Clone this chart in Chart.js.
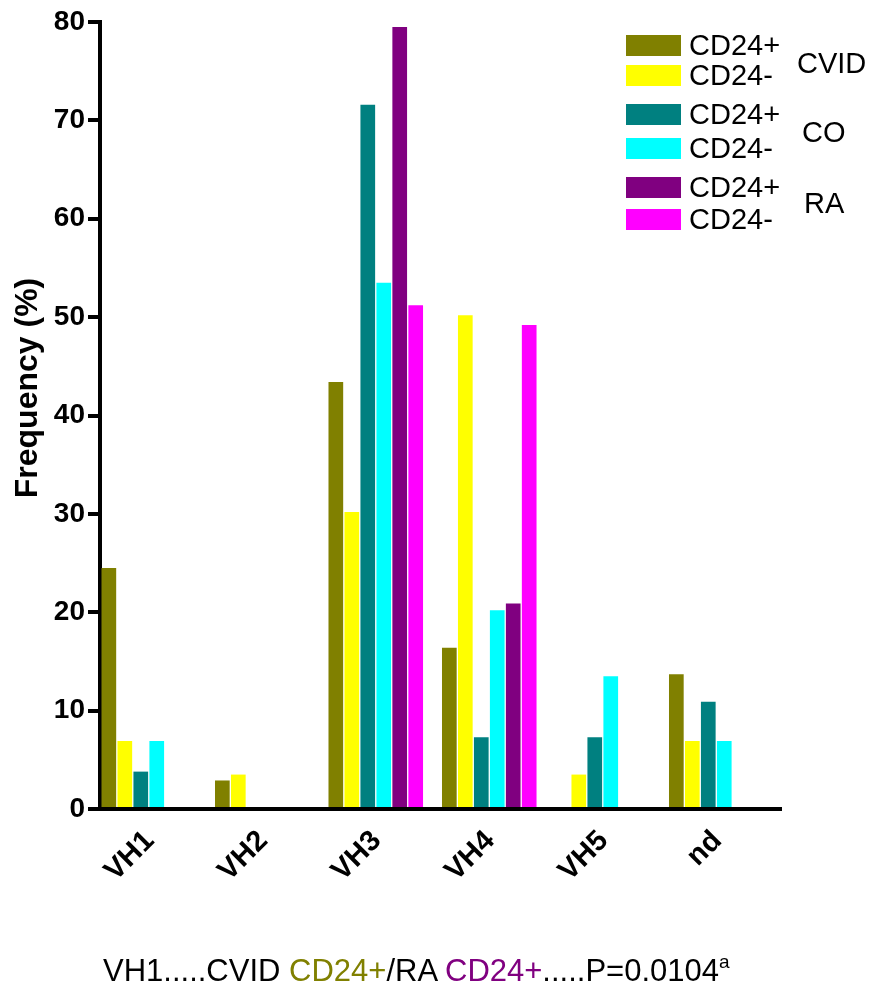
<!DOCTYPE html>
<html>
<head>
<meta charset="utf-8">
<script src="https://cdn.jsdelivr.net/npm/chart.js@4.4.1/dist/chart.umd.min.js"></script>
<style>
  html, body { margin: 0; padding: 0; background: #fff; }
  #wrap { position: relative; width: 875px; height: 988px; }
  #caption {
    position: absolute; left: 103px; top: 956px;
    font-family: "Liberation Sans", Arial, sans-serif; font-size: 31px; line-height: 30px;
    color: #000; white-space: nowrap;
  }
  #caption sup { font-size: 19px; line-height: 0; vertical-align: 13px; }
</style>
</head>
<body>
<div id="wrap">
  <canvas id="c" width="875" height="988"></canvas>
  <div id="caption">VH1.....CVID <span style="color:#808000">CD24+</span>/RA <span style="color:#800080">CD24+</span>.....P=0.0104<sup>a</sup></div>
</div>
<script>
const categories = ['VH1', 'VH2', 'VH3', 'VH4', 'VH5', 'nd'];
const cvidPos = [24.5, 2.9, 43.4, 16.4, null, 13.7];
const cvidNeg = [6.9, 3.5, 30.2, 50.2, 3.5, 6.9];
const coPos   = [3.8, null, 71.6, 7.3, 7.3, 10.9];
const coNeg   = [6.9, null, 53.5, 20.2, 13.5, 6.9];
const raPos   = [null, null, 79.5, 20.9, null, null];
const raNeg   = [null, null, 51.2, 49.2, null, null];
const spacer  = [null, null, null, null, null, null];
const yTicks  = [0, 10, 20, 30, 40, 50, 60, 70, 80];
const groupNames = ['CVID', 'CO', 'RA'];

const FONT = '"Liberation Sans", Arial, sans-serif';

const legendPlugin = {
  id: 'customLegend',
  afterDraw(chart) {
    const ctx = chart.ctx;
    ctx.save();
    const rows = [35, 65, 104, 138, 177, 209];
    ctx.font = '29px ' + FONT;
    ctx.textBaseline = 'middle';
    ctx.textAlign = 'left';
    for (let i = 0; i < 6; i++) {
      const ds = chart.data.datasets[i];
      ctx.fillStyle = ds.backgroundColor;
      ctx.fillRect(626, rows[i], 55, 21);
      ctx.fillStyle = '#000';
      ctx.fillText(ds.label, 689, rows[i] + 12);
    }
    const gpos = [[797, 65], [802, 134], [804, 205]];
    groupNames.forEach((g, i) => ctx.fillText(g, gpos[i][0], gpos[i][1]));
    // y-axis title
    ctx.font = 'bold 32px ' + FONT;
    ctx.translate(28, 388);
    ctx.rotate(-Math.PI / 2);
    ctx.textAlign = 'center';
    ctx.fillText('Frequency (%)', 0, 0);
    ctx.restore();
  }
};

new Chart(document.getElementById('c'), {
  type: 'bar',
  data: {
    labels: categories,
    datasets: [
      { label: 'CD24+', data: cvidPos, backgroundColor: '#808000' },
      { label: 'CD24-', data: cvidNeg, backgroundColor: '#FFFF00' },
      { label: 'CD24+', data: coPos, backgroundColor: '#008080' },
      { label: 'CD24-', data: coNeg, backgroundColor: '#00FFFF' },
      { label: 'CD24+', data: raPos, backgroundColor: '#800080' },
      { label: 'CD24-', data: raNeg, backgroundColor: '#FF00FF' },
      { label: '', data: spacer, backgroundColor: 'rgba(0,0,0,0)' }
    ]
  },
  options: {
    responsive: false,
    animation: false,
    devicePixelRatio: 1,
    layout: { padding: { top: 22, right: 94, left: 0, bottom: 0 } },
    datasets: { bar: { categoryPercentage: 0.985, barPercentage: 0.92, borderWidth: 0 } },
    plugins: { legend: { display: false }, tooltip: { enabled: false } },
    scales: {
      x: {
        grid: { display: false },
        border: { display: true, width: 4, color: '#000' },
        ticks: {
          color: '#000', font: { family: FONT, size: 29, weight: 'bold' },
          minRotation: 45, maxRotation: 45, padding: 7, labelOffset: -7
        },
        afterFit(scale) { scale.height = 179; }
      },
      y: {
        min: 0, max: 80,
        grid: { display: true, drawOnChartArea: false, drawTicks: true, tickLength: 12, lineWidth: 4, color: '#000' },
        border: { display: true, width: 4, color: '#000' },
        afterBuildTicks(scale) { scale.ticks = yTicks.map(v => ({ value: v })); },
        ticks: {
          color: '#000', font: { family: FONT, size: 28, weight: 'bold' }, padding: 3
        },
        afterFit(scale) { scale.width = 100; }
      }
    }
  },
  plugins: [legendPlugin]
});
</script>
</body>
</html>
